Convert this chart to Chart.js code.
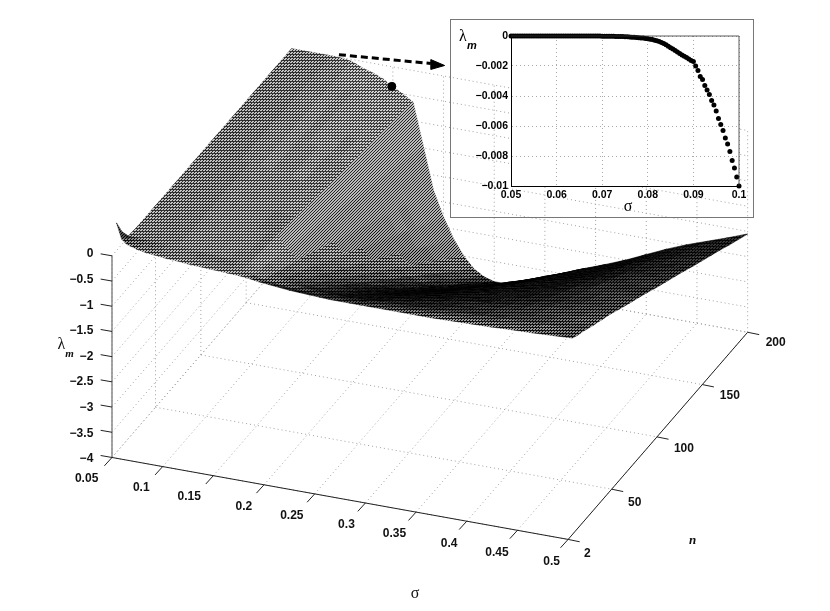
<!DOCTYPE html>
<html>
<head>
<meta charset="utf-8">
<style>
body { margin: 0; background: #fff; }
#wrap { position: relative; width: 830px; height: 611px; overflow: hidden; }
#graph { position: absolute; left: 0; top: 0; }
#inset { position: absolute; left: 450px; top: 19px; }
#frame { position: absolute; left: 450px; top: 19px; width: 302px; height: 197px; border: 1px solid #777; }
</style>
<script src="https://cdn.jsdelivr.net/npm/chart.js@4"></script>
</head>
<body>
<div id="wrap">
<canvas id="graph" width="830" height="611"></canvas>
<div id="frame"></div>
<canvas id="inset" width="303" height="198"></canvas>
</div>
<script>
// valores
var sigmaGrid = [0.05,0.055,0.06,0.07,0.08,0.09,0.10,0.11,0.12,0.13,0.14,0.15,0.16,0.17,0.18,0.19,0.20,0.21,0.22,0.23,0.24,0.25,0.26,0.27,0.28,0.29,0.30,0.32,0.34,0.36,0.38,0.40,0.42,0.44,0.46,0.48,0.50];
var nGrid = [7,13,20,30,40,50,60,70,80,90,100,110,120,130,140,150,160,170,180,190,200];
var lambdaRows = [
[0.55,0.25,0.16,0.10,0.06,0.04,0.02,0.01,-0.01,-0.02,-0.03,-0.04,-0.05,-0.06,-0.08,-0.11,-0.13,-0.15,-0.17,-0.18,-0.19,-0.20,-0.21,-0.21,-0.21,-0.21,-0.21,-0.21,-0.21,-0.21,-0.20,-0.19,-0.18,-0.16,-0.15,-0.13,-0.11],
[0.25,0.12,0.08,0.05,0.03,0.02,0.01,0,-0.02,-0.03,-0.04,-0.05,-0.06,-0.08,-0.14,-0.20,-0.23,-0.26,-0.28,-0.29,-0.30,-0.30,-0.30,-0.30,-0.30,-0.29,-0.29,-0.28,-0.27,-0.26,-0.25,-0.24,-0.22,-0.21,-0.20,-0.19,-0.17],
[0.02,0.01,0.01,0,0,0,0,-0.01,-0.04,-0.05,-0.06,-0.07,-0.08,-0.09,-0.18,-0.26,-0.31,-0.35,-0.38,-0.40,-0.41,-0.42,-0.42,-0.42,-0.41,-0.40,-0.39,-0.38,-0.36,-0.35,-0.33,-0.31,-0.29,-0.28,-0.26,-0.25,-0.23],
[0,0,0,0,0,0,0,-0.01,-0.04,-0.05,-0.06,-0.08,-0.10,-0.11,-0.24,-0.37,-0.44,-0.50,-0.55,-0.58,-0.60,-0.61,-0.61,-0.60,-0.59,-0.58,-0.56,-0.54,-0.52,-0.49,-0.47,-0.44,-0.42,-0.39,-0.37,-0.35,-0.33],
[0,0,0,0,0,0,0,-0.01,-0.04,-0.05,-0.06,-0.09,-0.11,-0.14,-0.30,-0.47,-0.57,-0.65,-0.71,-0.75,-0.78,-0.79,-0.79,-0.78,-0.77,-0.75,-0.74,-0.70,-0.67,-0.64,-0.61,-0.57,-0.54,-0.51,-0.48,-0.45,-0.42],
[0,0,0,0,0,0,0,-0.01,-0.03,-0.05,-0.07,-0.10,-0.13,-0.16,-0.37,-0.58,-0.70,-0.80,-0.88,-0.93,-0.96,-0.98,-0.98,-0.97,-0.95,-0.93,-0.91,-0.87,-0.83,-0.79,-0.75,-0.71,-0.66,-0.62,-0.59,-0.55,-0.51],
[0,0,0,0,0,0,0,-0.01,-0.04,-0.06,-0.08,-0.12,-0.15,-0.19,-0.44,-0.69,-0.84,-0.96,-1.05,-1.12,-1.15,-1.17,-1.17,-1.16,-1.14,-1.12,-1.09,-1.04,-0.99,-0.95,-0.90,-0.85,-0.79,-0.74,-0.70,-0.66,-0.62],
[0,0,0,0,0,0,0,-0.01,-0.05,-0.07,-0.09,-0.14,-0.18,-0.22,-0.51,-0.81,-0.98,-1.12,-1.23,-1.30,-1.34,-1.37,-1.37,-1.35,-1.33,-1.30,-1.27,-1.21,-1.16,-1.11,-1.05,-0.99,-0.92,-0.87,-0.82,-0.77,-0.72],
[0,0,0,0,0,0,0,-0.02,-0.05,-0.08,-0.11,-0.16,-0.20,-0.25,-0.58,-0.92,-1.12,-1.28,-1.40,-1.49,-1.54,-1.56,-1.56,-1.55,-1.52,-1.49,-1.45,-1.39,-1.32,-1.26,-1.20,-1.13,-1.06,-0.99,-0.94,-0.88,-0.82],
[0,0,0,0,0,0,0,-0.02,-0.06,-0.09,-0.12,-0.18,-0.23,-0.28,-0.66,-1.04,-1.26,-1.44,-1.58,-1.67,-1.73,-1.76,-1.76,-1.74,-1.71,-1.67,-1.63,-1.56,-1.49,-1.42,-1.35,-1.27,-1.19,-1.12,-1.05,-0.99,-0.92],
[0,0,0,0,0,0,-0.01,-0.02,-0.07,-0.10,-0.14,-0.20,-0.25,-0.32,-0.73,-1.15,-1.40,-1.60,-1.75,-1.86,-1.92,-1.95,-1.95,-1.94,-1.90,-1.86,-1.82,-1.74,-1.66,-1.58,-1.50,-1.41,-1.32,-1.24,-1.17,-1.10,-1.03],
[0,0,0,0,0,0,-0.01,-0.02,-0.07,-0.10,-0.15,-0.22,-0.28,-0.35,-0.80,-1.27,-1.54,-1.76,-1.93,-2.05,-2.11,-2.15,-2.15,-2.13,-2.09,-2.05,-2.00,-1.91,-1.82,-1.74,-1.65,-1.55,-1.45,-1.36,-1.29,-1.21,-1.13],
[0,0,0,0,0,0,-0.01,-0.02,-0.08,-0.11,-0.16,-0.24,-0.30,-0.38,-0.88,-1.38,-1.68,-1.92,-2.10,-2.23,-2.30,-2.34,-2.34,-2.32,-2.28,-2.23,-2.18,-2.08,-1.99,-1.90,-1.80,-1.69,-1.58,-1.49,-1.40,-1.32,-1.23],
[0,0,0,0,0,0,-0.01,-0.03,-0.08,-0.12,-0.18,-0.26,-0.33,-0.41,-0.95,-1.50,-1.82,-2.08,-2.28,-2.42,-2.50,-2.54,-2.54,-2.52,-2.47,-2.42,-2.36,-2.26,-2.15,-2.05,-1.95,-1.83,-1.72,-1.61,-1.52,-1.43,-1.33],
[0,0,0,0,0,0,-0.01,-0.03,-0.09,-0.13,-0.19,-0.28,-0.35,-0.44,-1.02,-1.61,-1.96,-2.24,-2.45,-2.60,-2.69,-2.73,-2.73,-2.71,-2.66,-2.60,-2.54,-2.43,-2.32,-2.21,-2.10,-1.97,-1.85,-1.74,-1.64,-1.54,-1.44],
[0,0,0,0,0,0,-0.01,-0.03,-0.10,-0.14,-0.20,-0.30,-0.38,-0.47,-1.10,-1.73,-2.10,-2.40,-2.63,-2.79,-2.88,-2.93,-2.93,-2.90,-2.85,-2.79,-2.72,-2.60,-2.48,-2.37,-2.25,-2.12,-1.98,-1.86,-1.76,-1.65,-1.54],
[0,0,0,0,0,0,-0.01,-0.03,-0.10,-0.15,-0.22,-0.32,-0.40,-0.50,-1.17,-1.84,-2.24,-2.56,-2.80,-2.98,-3.07,-3.12,-3.12,-3.10,-3.04,-2.98,-2.90,-2.78,-2.65,-2.53,-2.40,-2.26,-2.11,-1.98,-1.87,-1.76,-1.64],
[0,0,0,0,0,0,-0.01,-0.03,-0.11,-0.16,-0.23,-0.34,-0.43,-0.54,-1.24,-1.96,-2.38,-2.72,-2.98,-3.16,-3.26,-3.32,-3.32,-3.29,-3.23,-3.16,-3.09,-2.95,-2.81,-2.69,-2.55,-2.40,-2.24,-2.11,-1.99,-1.87,-1.74],
[0,0,0,0,0,0,-0.01,-0.04,-0.12,-0.17,-0.24,-0.36,-0.45,-0.57,-1.31,-2.07,-2.52,-2.88,-3.15,-3.35,-3.46,-3.51,-3.51,-3.48,-3.42,-3.35,-3.27,-3.12,-2.98,-2.84,-2.70,-2.54,-2.38,-2.23,-2.11,-1.98,-1.85],
[0,0,0,0,0,0,-0.01,-0.04,-0.12,-0.18,-0.26,-0.38,-0.48,-0.60,-1.39,-2.19,-2.66,-3.04,-3.33,-3.53,-3.65,-3.71,-3.71,-3.68,-3.61,-3.53,-3.45,-3.30,-3.14,-3.00,-2.85,-2.68,-2.51,-2.36,-2.22,-2.09,-1.95],
[0,0,0,0,0,0,-0.01,-0.04,-0.13,-0.19,-0.27,-0.40,-0.50,-0.63,-1.46,-2.30,-2.80,-3.20,-3.50,-3.72,-3.84,-3.90,-3.90,-3.87,-3.80,-3.72,-3.63,-3.47,-3.31,-3.16,-3.00,-2.82,-2.64,-2.48,-2.34,-2.20,-2.05]
];
var sigmaTicks = [0.05,0.1,0.15,0.2,0.25,0.3,0.35,0.4,0.45,0.5];
var nTicks = [2,50,100,150,200];
var lambdaTicks = [0,-0.5,-1,-1.5,-2,-2.5,-3,-3.5,-4];
var dotSigma = [0.149];
var dotN = [200];
var dotLambda = [-0.39];

// recuadro: lambda_m para n = 200, sigma de 0.05 a 0.1
var insetSigmaTicks = [0.05,0.06,0.07,0.08,0.09,0.1];
var insetLambdaTicks = [0,-0.002,-0.004,-0.006,-0.008,-0.01];
var insetSigma = [];
for (var k = 0; k <= 100; k++) insetSigma.push(+(0.05 + k * 0.0005).toFixed(4));
var insetLambda = [
0,0,0,0,0,0,0,0,0,0,0,0,0,0,0,0,0,0,0,0,
0,0,0,0,0,0,0,0,0,0,0,0,0,0,0,0,0,0,0,0,
-0.00001,-0.00001,-0.00001,-0.000015,-0.00002,-0.00002,-0.000025,-0.00003,-0.000035,-0.00004,
-0.00005,-0.000055,-0.000065,-0.000075,-0.000085,-0.000095,-0.00011,-0.000125,-0.00014,-0.00016,
-0.00018,-0.00021,-0.00024,-0.00028,-0.00032,-0.00037,-0.00043,-0.0005,-0.00058,-0.00068,
-0.00078,-0.00087,-0.00097,-0.00107,-0.00117,-0.00126,-0.00135,-0.00144,-0.00153,-0.00163,
-0.0017,-0.0020,-0.0023,-0.0027,-0.0029,-0.0033,-0.0036,-0.0039,-0.0043,-0.0046,
-0.0050,-0.0055,-0.0059,-0.0063,-0.0068,-0.0072,-0.0077,-0.0083,-0.0088,-0.0094,-0.0100
];

// proyeccion de la caja 3D al plano de la figura
function px(s, n) {
    return 108.3 + (s - 0.05) / 0.45 * 461.7 + (n - 2) / 198 * 181.7;
}
function py(s, n, l) {
    return 460 + (s - 0.05) / 0.45 * 83.3 - (n - 2) / 198 * 210.6 - (l + 4) * 51.25;
}
function pt(s, n, l) {
    return { x: px(s, n), y: py(s, n, l) };
}

function lineSet(points, color, width, dash) {
    return {
        type: "line", data: points, showLine: true, pointRadius: 0, fill: false,
        borderColor: color, borderWidth: width, borderDash: dash || [], tension: 0, clip: false
    };
}

// textura de malla fina, una por tono
var tiles = {};
function meshTile(tone, stripes) {
    var key = tone + (stripes ? "s" : "m");
    if (tiles[key]) return tiles[key];
    var f = stripes ? 1 / 3 : 5 / 9;
    var amp = Math.min(150, tone / f, (255 - tone) / (1 - f));
    var c = document.createElement("canvas");
    c.width = 3;
    c.height = 3;
    var g = c.getContext("2d");
    for (var y = 0; y < 3; y++) {
        for (var x = 0; x < 3; x++) {
            var isLine = stripes ? (x + y) % 3 === 0 : (y === 0 || (x + y) % 3 === 0);
            var v = Math.round(isLine ? tone - amp * (1 - f) : tone + amp * f);
            g.fillStyle = "rgb(" + v + "," + v + "," + v + ")";
            g.fillRect(x, y, 1, 1);
        }
    }
    tiles[key] = document.createElement("canvas").getContext("2d").createPattern(c, "repeat");
    return tiles[key];
}

// tono de cada celda segun lo apretada que queda la malla en pantalla
function cellFill(p, ds, dn) {
    var area = 0;
    for (var i = 0; i < 4; i++) {
        area += p[i].x * p[i + 1].y - p[i + 1].x * p[i].y;
    }
    area = Math.abs(area) / 2 + 0.01;
    var ea = Math.hypot(p[1].x - p[0].x, p[1].y - p[0].y) * 0.005 / ds;
    var eb = Math.hypot(p[3].x - p[0].x, p[3].y - p[0].y) * 2 / dn;
    var fine = area * (0.005 / ds) * (2 / dn);
    var ink = 1 - Math.exp(-1.27 * (ea + eb) / fine);
    var tone = Math.round(255 * (1 - ink) / 8) * 8;
    return meshTile(Math.min(tone, 248), ea > 8);
}

var datasets = [];
var dark = "#222";
var dots = "#a0a0a0";

// encima de todo: punto y flecha
datasets.push({
    type: "scatter",
    data: [pt(dotSigma[0], dotN[0], dotLambda[0])],
    pointRadius: 4, backgroundColor: "#000", borderColor: "#000", clip: false
});
datasets.push({
    type: "line", data: [{x:431,y:55.5},{x:445,y:61.5},{x:431,y:65.5},{x:431,y:55.5}],
    showLine: true, pointRadius: 0, fill: "shape", backgroundColor: "#000", borderColor: "#000", borderWidth: 1, tension: 0, clip: false
});
datasets.push(lineSet([{x:338,y:50.5},{x:431,y:59.5}], "#000", 3, [7,4]));

// superficie: de delante hacia atras porque chart.js pinta primero el ultimo
for (var i = 0; i < nGrid.length - 1; i++) {
    for (var j = sigmaGrid.length - 2; j >= 0; j--) {
        var s0 = sigmaGrid[j], s1 = sigmaGrid[j + 1], n0 = nGrid[i], n1 = nGrid[i + 1];
        var cell = [
            pt(s0, n0, lambdaRows[i][j]), pt(s1, n0, lambdaRows[i][j + 1]),
            pt(s1, n1, lambdaRows[i + 1][j + 1]), pt(s0, n1, lambdaRows[i + 1][j]),
            pt(s0, n0, lambdaRows[i][j])
        ];
        var tone = cellFill(cell, s1 - s0, n1 - n0);
        datasets.push({
            type: "line", data: cell, showLine: true, pointRadius: 0, fill: "shape",
            backgroundColor: tone, borderColor: tone, borderWidth: 0.6, tension: 0, clip: false
        });
    }
}

// ejes
sigmaTicks.forEach(function(s) {
    var b = pt(s, 2, -4);
    datasets.push(lineSet([b, { x: b.x - 7.7, y: b.y + 8.5 }], dark, 1));
});
nTicks.forEach(function(n) {
    var b = pt(0.5, n, -4);
    datasets.push(lineSet([b, { x: b.x + 11.7, y: b.y + 2.4 }], dark, 1));
});
lambdaTicks.forEach(function(l) {
    var b = pt(0.05, 2, l);
    datasets.push(lineSet([b, { x: b.x - 11.5, y: b.y - 2 }], dark, 1));
});
datasets.push(lineSet([pt(0.05, 2, -4), pt(0.5, 2, -4), pt(0.5, 200, -4)], dark, 1));
datasets.push(lineSet([pt(0.05, 2, 0), pt(0.05, 2, -4)], "#777", 1.3));

// rejilla punteada: suelo y las dos paredes del fondo
sigmaTicks.forEach(function(s) {
    datasets.push(lineSet([pt(s, 2, -4), pt(s, 200, -4)], dots, 1, [1,3]));
    datasets.push(lineSet([pt(s, 200, -4), pt(s, 200, 0)], dots, 1, [1,3]));
});
nTicks.forEach(function(n) {
    datasets.push(lineSet([pt(0.05, n, -4), pt(0.5, n, -4)], dots, 1, [1,3]));
    datasets.push(lineSet([pt(0.05, n, -4), pt(0.05, n, 0)], dots, 1, [1,3]));
});
lambdaTicks.forEach(function(l) {
    datasets.push(lineSet([pt(0.05, 2, l), pt(0.05, 200, l)], dots, 1, [1,3]));
    datasets.push(lineSet([pt(0.05, 200, l), pt(0.5, 200, l)], dots, 1, [1,3]));
});

var sansFont = "bold 12px 'Liberation Sans'";
var serifFont = "16px 'Liberation Serif'";

// textos de los ejes de la figura grande
var mainLabels = {
    id: "mainLabels",
    afterDraw: function(chart) {
        var ctx = chart.ctx;
        ctx.save();
        ctx.fillStyle = "#111";
        ctx.textBaseline = "middle";
        ctx.font = sansFont;
        ctx.textAlign = "right";
        sigmaTicks.forEach(function(s) {
            var b = pt(s, 2, -4);
            ctx.fillText(String(s), b.x - 10, b.y + 18.5);
        });
        lambdaTicks.forEach(function(l) {
            var b = pt(0.05, 2, l);
            ctx.fillText(String(l).replace("-", "\u2212"), b.x - 15, b.y - 1);
        });
        ctx.textAlign = "left";
        nTicks.forEach(function(n) {
            var b = pt(0.5, n, -4);
            ctx.fillText(String(n), b.x + 14, b.y + 10);
        });
        ctx.textAlign = "center";
        ctx.font = serifFont;
        ctx.fillText("\u03c3", 415, 594);
        ctx.fillText("\u03bb", 61.5, 345);
        ctx.font = "italic bold 11px 'Liberation Serif'";
        ctx.fillText("m", 69.5, 354);
        ctx.font = "italic bold 13px 'Liberation Serif'";
        ctx.fillText("n", 692.5, 541);
        ctx.restore();
    }
};

new Chart(document.getElementById("graph").getContext("2d"), {
    type: "scatter",
    data: { datasets: datasets },
    options: {
        responsive: false,
        animation: false,
        events: [],
        layout: { padding: 0 },
        plugins: { legend: { display: false }, tooltip: { enabled: false } },
        scales: {
            x: { type: "linear", min: 0, max: 830, display: false },
            y: { type: "linear", min: 0, max: 611, reverse: true, display: false }
        }
    },
    plugins: [mainLabels]
});

// fondo blanco, caja y letras del recuadro
var insetDecor = {
    id: "insetDecor",
    beforeDraw: function(chart) {
        var a = chart.chartArea;
        chart.ctx.save();
        chart.ctx.fillStyle = "#fff";
        chart.ctx.fillRect(a.left, a.top, a.right - a.left, a.bottom - a.top);
        chart.ctx.restore();
    },
    afterDraw: function(chart) {
        var ctx = chart.ctx, a = chart.chartArea;
        ctx.save();
        ctx.strokeStyle = "#333";
        ctx.lineWidth = 0.8;
        ctx.beginPath();
        ctx.moveTo(a.left, a.top);
        ctx.lineTo(a.right, a.top);
        ctx.lineTo(a.right, a.bottom);
        ctx.stroke();
        ctx.fillStyle = "#000";
        ctx.textAlign = "center";
        ctx.textBaseline = "middle";
        ctx.font = "16px 'Liberation Serif'";
        ctx.fillText("\u03bb", 13, 18);
        ctx.fillText("\u03c3", 178, 188);
        ctx.font = "italic bold 11px 'Liberation Sans'";
        ctx.fillText("m", 22, 27);
        ctx.restore();
    }
};

new Chart(document.getElementById("inset").getContext("2d"), {
    type: "scatter",
    data: {
        datasets: [{
            data: insetSigma.map(function(s, i) { return { x: s, y: insetLambda[i] }; }),
            pointRadius: 2.5, pointBorderWidth: 0, backgroundColor: "#000", clip: false
        }]
    },
    options: {
        responsive: false,
        animation: false,
        events: [],
        layout: { padding: { top: 17, right: 14, left: 0, bottom: 0 } },
        plugins: { legend: { display: false }, tooltip: { enabled: false } },
        scales: {
            x: {
                type: "linear", min: 0.05, max: 0.1,
                afterBuildTicks: function(s) { s.ticks = insetSigmaTicks.map(function(v) { return { value: v }; }); },
                afterFit: function(s) { s.height = 31; },
                ticks: { color: "#000", font: { family: "'Liberation Sans'", size: 10.5, weight: "bold" }, padding: 3, maxRotation: 0,
                    callback: function(v) { return String(+v.toFixed(2)); } },
                grid: { color: "#aaa", drawTicks: false },
                border: { color: "#000", width: 1, dash: [1,3] }
            },
            y: {
                type: "linear", min: -0.01, max: 0,
                afterBuildTicks: function(s) { s.ticks = insetLambdaTicks.map(function(v) { return { value: v }; }); },
                afterFit: function(s) { s.width = 61; },
                ticks: { color: "#000", font: { family: "'Liberation Sans'", size: 10.5, weight: "bold" }, padding: 3,
                    callback: function(v) { return String(+v.toFixed(3)).replace("-", "\u2212"); } },
                grid: { color: "#aaa", drawTicks: false },
                border: { color: "#000", width: 1, dash: [1,3] }
            }
        }
    },
    plugins: [insetDecor]
});
</script>
</body>
</html>
